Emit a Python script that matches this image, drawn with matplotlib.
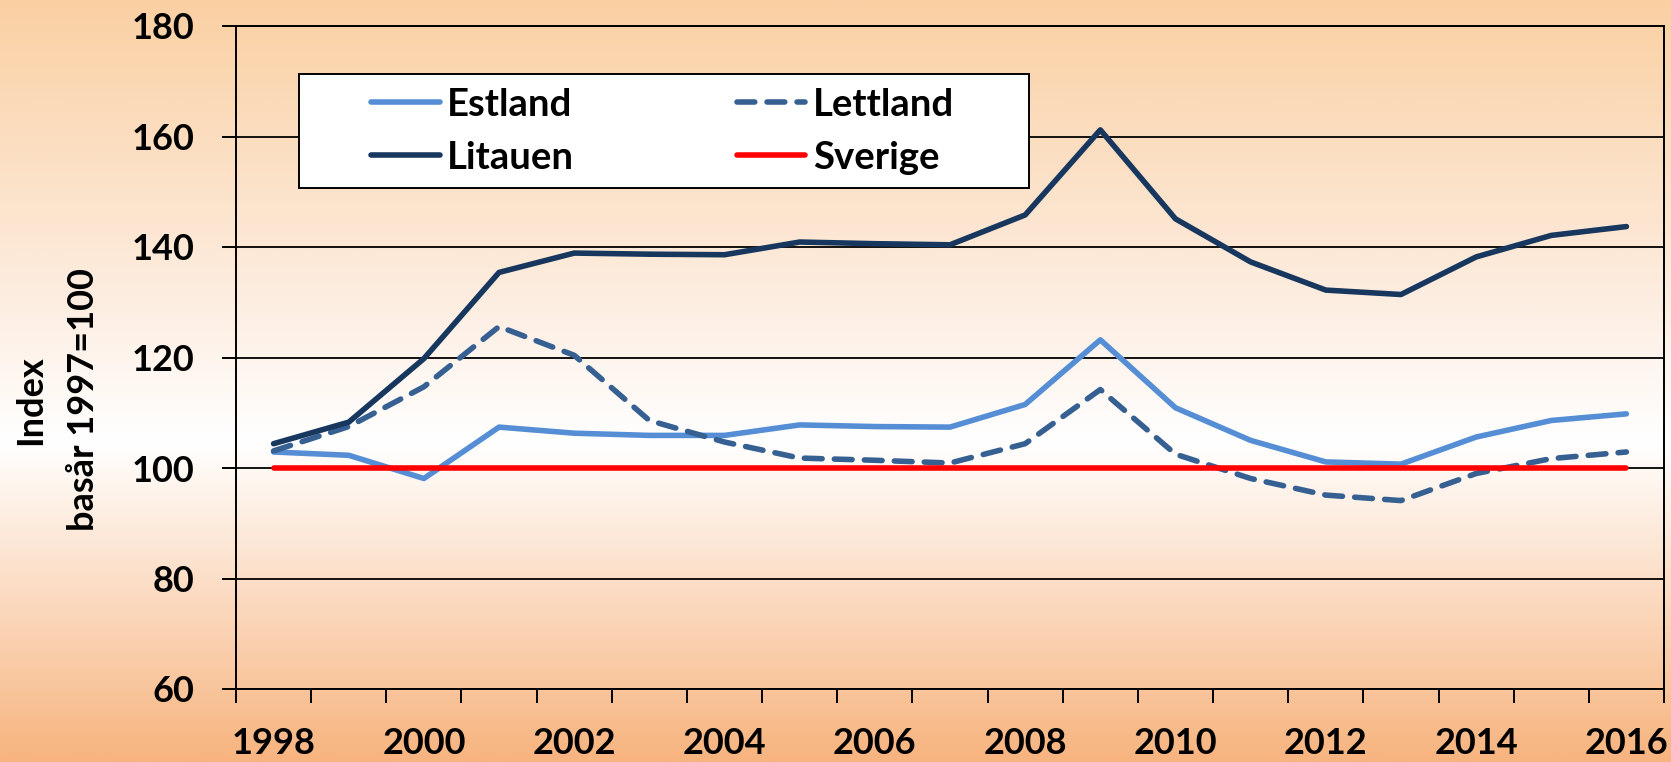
import numpy as np
import matplotlib
matplotlib.use('Agg')
import matplotlib.pyplot as plt
from matplotlib.colors import LinearSegmentedColormap
from matplotlib.patches import Rectangle

years = list(range(1998, 2017))
estland = [102.9, 102.3, 98.1, 107.4, 106.3, 105.9, 105.9, 107.8, 107.5, 107.4,
           111.5, 123.2, 110.9, 105.0, 101.1, 100.7, 105.6, 108.6, 109.8]
lettland = [103.1, 107.5, 114.7, 125.6, 120.4, 108.6, 104.7, 101.8, 101.4, 100.9,
            104.4, 114.2, 102.5, 98.1, 95.1, 94.1, 99.0, 101.7, 102.9]
litauen = [104.4, 108.3, 119.8, 135.4, 138.9, 138.7, 138.6, 140.9, 140.6, 140.4,
           145.8, 161.2, 145.1, 137.3, 132.2, 131.4, 138.2, 142.1, 143.7]
sverige = [100] * 19
xlabels = [str(y) for y in range(1998, 2017, 2)]

plt.rcParams['font.family'] = ['Lato', 'DejaVu Sans']
plt.rcParams['font.weight'] = 'bold'

W, H = 1671, 762
fig = plt.figure(figsize=(W / 100, H / 100), dpi=100)

# background gradient
bg = fig.add_axes([0, 0, 1, 1], zorder=-10)
cmap = LinearSegmentedColormap.from_list('bg', [
    (0.0, '#f7b47f'), (0.42, '#ffffff'), (0.6, '#fdeee2'), (1.0, '#fad0a3')])
bg.imshow(np.linspace(0, 1, 400).reshape(-1, 1), aspect='auto', cmap=cmap,
          origin='lower', extent=[0, 1, 0, 1])
bg.set_axis_off()

l, r, t, b = 236, 1664, 26, 689
ax = fig.add_axes([l / W, 1 - b / H, (r - l) / W, (b - t) / H])
ax.set_facecolor('none')

lw = 4
h_est, = ax.plot(years, estland, color='#558ed5', lw=lw, solid_capstyle='round', label='Estland', zorder=4)
h_let, = ax.plot(years, lettland, color='#376092', lw=lw, dashes=(3.2, 2.2), dash_capstyle='round',
                 label='Lettland', zorder=4)
h_lit, = ax.plot(years, litauen, color='#17375e', lw=lw, solid_capstyle='round', label='Litauen', zorder=4)
h_sve, = ax.plot(years, sverige, color='#ff0000', lw=lw, solid_capstyle='round', label='Sverige', zorder=5)

ax.set_xlim(1997.5, 2016.5)
ax.set_ylim(60, 180)
ax.set_yticks(range(60, 181, 20))
ax.set_xticks(range(1998, 2017, 2))
ax.set_xticklabels(xlabels)
ax.set_xticks(np.arange(1997.5, 2017, 1), minor=True)
ax.tick_params(axis='x', which='major', length=0, pad=27, labelsize=26)
ax.tick_params(axis='x', which='minor', length=10, width=1.4, direction='out')
ax.tick_params(axis='y', length=10, width=1.4, direction='out', pad=20, labelsize=26)
ax.grid(axis='y', color='black', lw=1.3, zorder=1)
for s in ax.spines.values():
    s.set_linewidth(1.4)
    s.set_color('black')

# legend box
box = Rectangle((0.044, 0.756), 0.511, 0.172, transform=ax.transAxes,
                facecolor='white', edgecolor='black', lw=1.4, zorder=6)
ax.add_patch(box)
handles = [h_est, h_lit, h_let, h_sve]
leg = ax.legend(handles, [h.get_label() for h in handles], loc='upper left',
                bbox_to_anchor=(0.0945, 0.907), ncol=2, frameon=False,
                fontsize=27.5, handlelength=1.8, handletextpad=0.2, columnspacing=4.25,
                labelspacing=0.5, borderpad=0, borderaxespad=0)
leg.set_zorder(7)
for h in leg.get_lines():
    h.set_solid_capstyle('round')
    h.set_dash_capstyle('round')

fig.text(57 / W, 1 - 400 / H, 'Index\nbasår 1997=100', rotation=90, ha='center', va='center',
         multialignment='center', fontsize=26, fontweight='bold', linespacing=1.75)

fig.savefig('out.png', dpi=100)
